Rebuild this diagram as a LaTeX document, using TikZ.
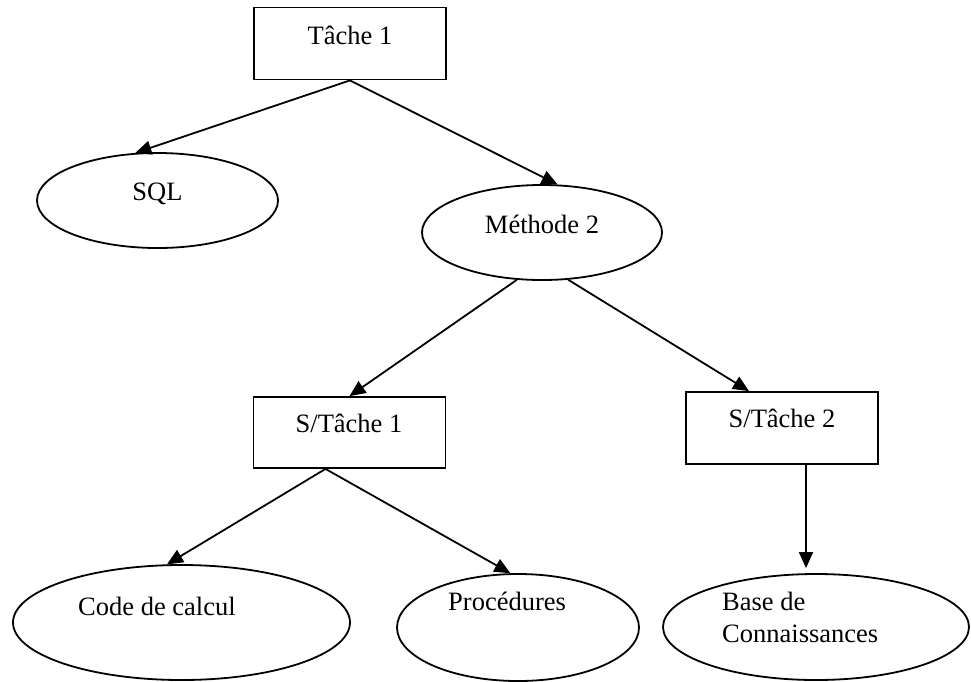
\documentclass[tikz,border=0pt]{standalone}
\usepackage{fontspec}
\setmainfont{Liberation Serif}
\usetikzlibrary{shapes.geometric,arrows.meta}
\begin{document}
\begin{tikzpicture}[x=1pt,y=-1pt,
  box/.style={draw,line width=1.8pt,minimum width=192pt,minimum height=72pt,inner sep=0pt},
  oval/.style={draw,ellipse,line width=1.8pt,inner sep=0pt},
  lbl/.style={font=\fontsize{26.5}{31}\selectfont,inner sep=0pt,anchor=base},
  lbll/.style={font=\fontsize{26.5}{31}\selectfont,inner sep=0pt,anchor=base west},
  arr/.style={line width=1.8pt,-{Triangle[length=16pt,width=14pt]}}]
\useasboundingbox (0,0) rectangle (971,681);
% shapes
\node[box] (t1) at (350,43.5) {};
\node[oval,minimum width=241pt,minimum height=95pt] (sql) at (157.5,200.5) {};
\node[oval,minimum width=240pt,minimum height=95pt] (meth) at (542,232.5) {};
\node[box,minimum height=71pt] (st1) at (349.5,432.5) {};
\node[box] (st2) at (782,428) {};
\node[oval,minimum width=337pt,minimum height=115pt] (code) at (181.5,622.5) {};
\node[oval,minimum width=242pt,minimum height=107pt] (proc) at (518,627.5) {};
\node[oval,minimum width=306pt,minimum height=106pt] (base) at (816,627) {};
% labels
\node[lbl] (t1l) at (350,44) {Tâche 1};
\node[lbl] (sqll) at (157.5,200) {SQL};
\node[lbl] (methl) at (542,233) {Méthode 2};
\node[lbl] (st1l) at (349,432) {S/Tâche 1};
\node[lbl] (st2l) at (782,427) {S/Tâche 2};
\node[lbll] (codel) at (78,615) {Code de calcul};
\node[lbll] (procl) at (448,610) {Procédures};
\node[lbll] (basel1) at (722,610) {Base de};
\node[lbll] (basel2) at (722,642) {Connaissances};
% connectors
\draw[arr] (t1.south) -- (sql.115);
\draw[arr] (t1.south) -- (meth.72);
\draw[arr] (meth.242) -- (st1.north);
\draw[arr] (meth.299) -- ([xshift=-33pt]st2.north);
\draw[arr] ([xshift=-24pt]st1.south) -- (code.104);
\draw[arr] ([xshift=-24pt]st1.south) -- (proc.98);
\draw[arr] ([xshift=24pt]st2.south) -- ([shift={(-10pt,5pt)}]base.north);
\end{tikzpicture}
\end{document}
